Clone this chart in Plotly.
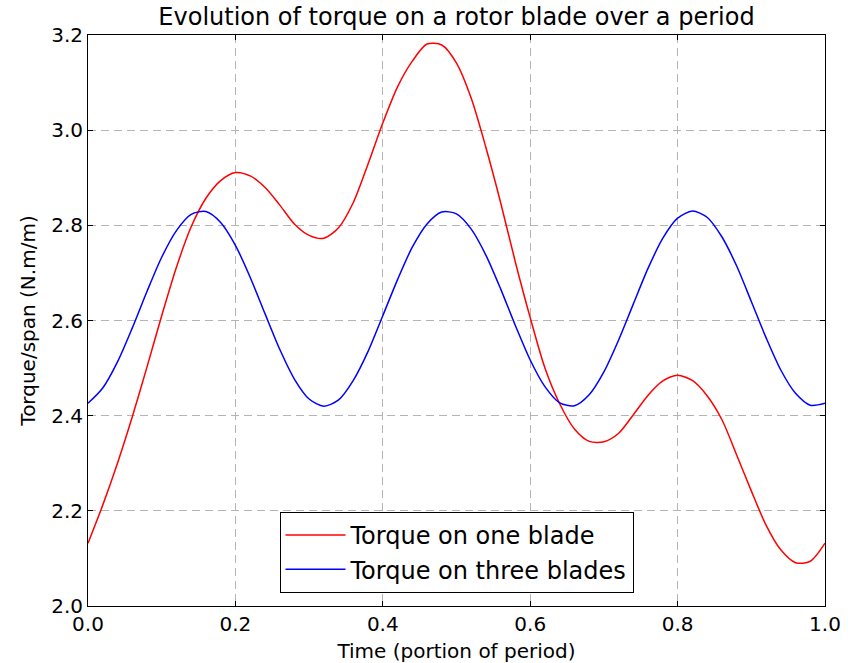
import plotly.graph_objects as go

# time as a fraction of one rotor period
time = [0.00, 0.02, 0.04, 0.06, 0.08, 0.10, 0.12, 0.14, 0.16, 0.18,
        0.20, 0.22, 0.24, 0.26, 0.28, 0.30, 0.32, 0.34, 0.36, 0.38,
        0.40, 0.42, 0.44, 0.46, 0.48, 0.50, 0.52, 0.54, 0.56, 0.58,
        0.60, 0.62, 0.64, 0.66, 0.68, 0.70, 0.72, 0.74, 0.76, 0.78,
        0.80, 0.82, 0.84, 0.86, 0.88, 0.90, 0.92, 0.94, 0.96, 0.98,
        1.00]

# torque per span on a single blade (N.m/m)
torque_one = [2.132, 2.212, 2.300, 2.397, 2.502, 2.610, 2.712, 2.797, 2.857, 2.894,
              2.911, 2.904, 2.880, 2.843, 2.803, 2.779, 2.773, 2.795, 2.848, 2.929,
              3.015, 3.091, 3.145, 3.181, 3.179, 3.141, 3.067, 2.963, 2.847, 2.722,
              2.606, 2.500, 2.425, 2.372, 2.346, 2.345, 2.363, 2.402, 2.443, 2.473,
              2.485, 2.474, 2.442, 2.392, 2.318, 2.242, 2.170, 2.118, 2.091, 2.094,
              2.132]

# torque per span summed over the three blades (N.m/m)
torque_three = [2.426, 2.458, 2.513, 2.584, 2.661, 2.733, 2.789, 2.823, 2.829, 2.806,
                2.758, 2.691, 2.615, 2.540, 2.477, 2.435, 2.420, 2.433, 2.474, 2.535,
                2.610, 2.686, 2.754, 2.803, 2.828, 2.824, 2.792, 2.737, 2.666, 2.589,
                2.517, 2.461, 2.427, 2.421, 2.444, 2.492, 2.559, 2.635, 2.710, 2.773,
                2.815, 2.830, 2.817, 2.776, 2.715, 2.640, 2.564, 2.496, 2.447, 2.422,
                2.426]

x_ticks = [0.0, 0.2, 0.4, 0.6, 0.8, 1.0]
y_ticks = [2.0, 2.2, 2.4, 2.6, 2.8, 3.0, 3.2]

FONT = "DejaVu Sans"

fig = go.Figure()
fig.add_trace(go.Scatter(
    x=time, y=torque_one, mode="lines", name="Torque on one blade",
    line=dict(color="#ff0000", width=1.5, shape="spline", smoothing=0.8),
))
fig.add_trace(go.Scatter(
    x=time, y=torque_three, mode="lines", name="Torque on three blades",
    line=dict(color="#0000ff", width=1.5, shape="spline", smoothing=0.8),
))

axis_common = dict(
    showline=True, linecolor="black", linewidth=1, mirror="ticks",
    ticks="inside", ticklen=5, tickcolor="black", tickwidth=1,
    showgrid=True, gridcolor="#b4b4b4", gridwidth=1, griddash="8px,5px",
    zeroline=False, tickformat=".1f", automargin=False,
    tickfont=dict(family=FONT, size=20, color="black"),
)

fig.update_xaxes(
    range=[0, 1], tickvals=x_ticks,
    title=dict(text="Time (portion of period)", standoff=8,
               font=dict(family=FONT, size=20, color="black")),
    **axis_common,
)
fig.update_yaxes(
    range=[2.0, 3.2], tickvals=y_ticks,
    title=dict(text="Torque/span (N.m/m)", standoff=10,
               font=dict(family=FONT, size=20, color="black")),
    **axis_common,
)

fig.update_layout(
    width=851, height=663,
    margin=dict(l=88, r=26, t=35, b=57),
    paper_bgcolor="white", plot_bgcolor="white",
    title=dict(text="Evolution of torque on a rotor blade over a period",
               x=0.5, xref="paper", xanchor="center",
               y=1 - 17 / 663, yref="container", yanchor="middle",
               font=dict(family=FONT, size=24, color="black")),
    legend=dict(
        x=0.5, xanchor="center", y=0.023, yanchor="bottom",
        bgcolor="white", bordercolor="black", borderwidth=1,
        font=dict(family=FONT, size=24, color="black"),
        itemwidth=60, tracegroupgap=0,
    ),
    showlegend=True,
)

fig.write_html("out.html")
